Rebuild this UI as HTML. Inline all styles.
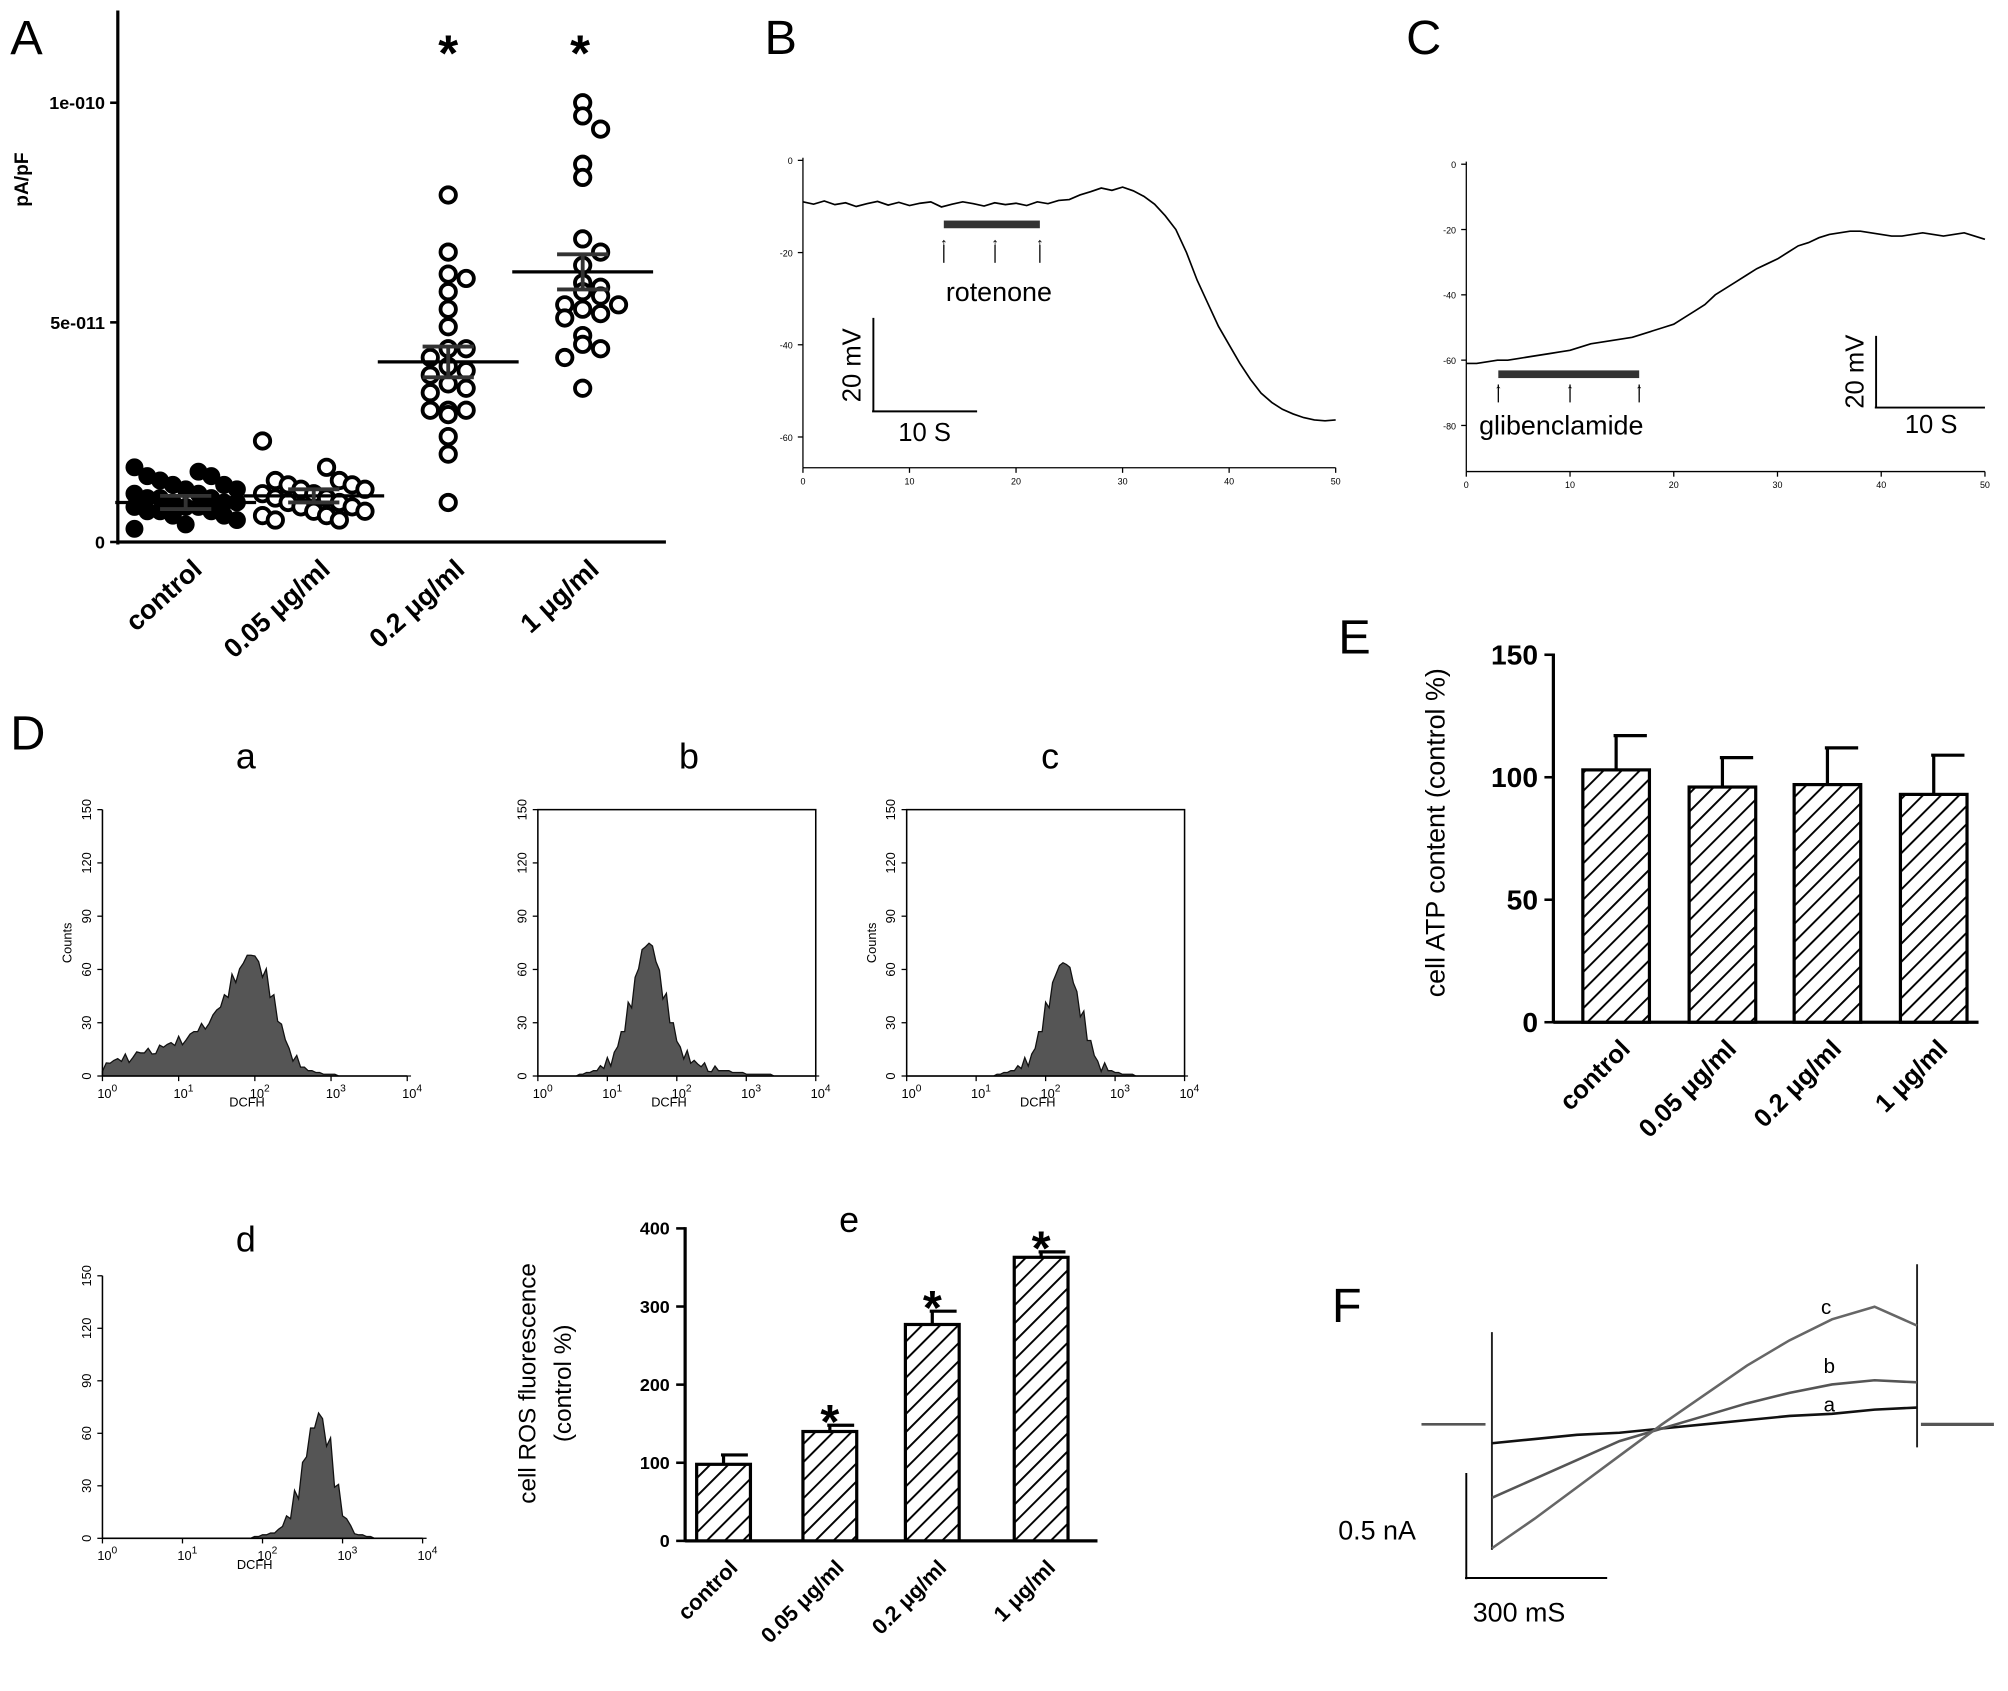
<!DOCTYPE html>
<html><head><meta charset="utf-8"><style>
html,body{margin:0;padding:0;background:#fff;overflow:hidden;}
svg{display:block;font-family:"Liberation Sans",sans-serif;}
</style></head><body>
<svg id="fig" width="2008" height="1691" viewBox="0 0 1568 1320" xmlns="http://www.w3.org/2000/svg">
<defs>
<pattern id="hatch" patternUnits="userSpaceOnUse" width="10" height="10" patternTransform="rotate(45)">
<rect width="10" height="10" fill="#fff"/><line x1="0" y1="0" x2="0" y2="10" stroke="#000" stroke-width="3"/>
</pattern>
</defs>
<g id="root"></g>
</svg>
<script>
// ---------- Panel A data ----------
const aCats = ["control","0.05 μg/ml","0.2 μg/ml","1 μg/ml"];
const aControl = [1.7,1.6,1.5,1.5,1.4,1.3,1.3,1.2,1.2,1.1,1.1,1.0,1.0,1.0,0.9,0.9,0.9,0.8,0.8,0.8,0.7,0.7,0.7,0.6,0.6,0.5,0.4,0.3];
const aLow = [2.3,1.7,1.4,1.4,1.3,1.3,1.2,1.2,1.1,1.1,1.0,1.0,0.9,0.9,0.8,0.8,0.7,0.7,0.6,0.6,0.5,0.5];
const aMid = [7.9,6.6,6.1,6.0,5.7,5.3,4.9,4.4,4.4,4.2,4.0,3.9,3.8,3.6,3.5,3.4,3.0,3.0,3.0,2.9,2.4,2.0,0.9];
const aHigh = [10.0,9.7,9.4,8.6,8.3,6.9,6.6,6.3,5.9,5.8,5.7,5.6,5.4,5.4,5.3,5.2,5.1,4.7,4.5,4.4,4.2,3.5];
const aMeans = [0.9,1.05,4.1,6.15];
const aSem = [0.15,0.15,0.35,0.4];
const aTicks = [0,5,10];
const aTickLabels = ["0","5e-011","1e-010"];

// ---------- Panel B / C data ----------
const bTime = [0,1,2,3,4,5,6,7,8,9,10,11,12,13,14,15,16,17,18,19,20,21,22,23,24,25,26,27,28,29,30,31,32,33,34,35,36,37,38,39,40,41,42,43,44,45,46,47,48,49,50];
const bMv = [-9,-9.5,-8.8,-9.6,-9.2,-10,-9.4,-8.9,-9.7,-9.1,-9.8,-9.3,-9,-10.1,-9.5,-9,-9.4,-9.9,-9.2,-9.6,-9.3,-9.8,-9,-9.4,-8.7,-8.5,-7.5,-6.8,-6,-6.5,-5.8,-6.6,-7.8,-9.5,-12,-15,-20,-26,-31,-36,-40,-44,-47.5,-50.5,-52.5,-54,-55,-55.8,-56.3,-56.5,-56.3];
const cMv = [-61,-61,-60.5,-60,-60,-59.5,-59,-58.5,-58,-57.5,-57,-56,-55,-54.5,-54,-53.5,-53,-52,-51,-50,-49,-47,-45,-43,-40,-38,-36,-34,-32,-30.5,-29,-27,-25,-24,-22.5,-21.5,-21,-20.5,-20.5,-21,-21.5,-22,-22,-21.5,-21,-21.5,-22,-21.5,-21,-22,-23];
const bxTicks = [0,10,20,30,40,50];
const bYTicks = [0,-20,-40,-60];
const cYTicks = [0,-20,-40,-60,-80];

// ---------- Panel D histograms (bins log10 0..4, step 0.1) ----------
const histA = [5,8,9,10,12,13,14,15,17,18,20,22,25,28,32,38,45,55,62,68,66,58,45,30,18,10,5,3,2,1,1,0,0,0,0,0,0,0,0,0,0];
const histB = [0,0,0,0,0,0,1,2,3,5,8,15,25,40,58,72,74,62,45,30,18,12,8,6,5,4,3,3,2,2,1,1,1,1,0,0,0,0,0,0,0];
const histC = [0,0,0,0,0,0,0,0,0,0,0,0,0,1,2,3,5,8,14,25,40,55,63,62,50,35,20,10,5,3,2,1,1,0,0,0,0,0,0,0,0];
const histD = [0,0,0,0,0,0,0,0,0,0,0,0,0,0,0,0,0,0,0,1,2,3,6,12,25,45,63,70,55,30,12,5,2,1,0,0,0,0,0,0,0];
const histYTicks = [0,30,60,90,120,150];

// ---------- Panel e ----------
const rosCats = ["control","0.05 μg/ml","0.2 μg/ml","1 μg/ml"];
const rosVals = [98,140,277,363];
const rosErr = [12,8,17,7];
const rosStar = [false,true,true,true];
const rosTicks = [0,100,200,300,400];

// ---------- Panel E ----------
const atpCats = ["control","0.05 μg/ml","0.2 μg/ml","1 μg/ml"];
const atpVals = [103,96,97,93];
const atpErr = [14,12,15,16];
const atpTicks = [0,50,100,150];

// ---------- Panel F ----------
const fTime = [0,0.1,0.2,0.3,0.4,0.5,0.6,0.7,0.8,0.9,1.0];
const fA = [-0.09,-0.07,-0.05,-0.04,-0.02,0,0.02,0.04,0.05,0.07,0.08];
const fB = [-0.35,-0.26,-0.17,-0.08,-0.02,0.04,0.1,0.15,0.19,0.21,0.2];
const fC = [-0.59,-0.45,-0.3,-0.15,0,0.14,0.28,0.4,0.5,0.56,0.47];

const NS="http://www.w3.org/2000/svg";
const root=document.getElementById('root');
function mk(tag,attrs,parent,text){const e=document.createElementNS(NS,tag);for(const k in attrs)e.setAttribute(k,attrs[k]);if(text!==undefined)e.textContent=text;(parent||root).appendChild(e);return e;}
function grp(name){const g=mk('g',{});


return g;}
function txt(g,x,y,s,size,opts){opts=opts||{};const t=mk('text',{x:x,y:y,'font-size':size,'text-anchor':opts.anchor||'start','font-weight':opts.bold?'bold':'normal',fill:'#000'},g,s);if(opts.rot!==undefined)t.setAttribute('transform','rotate('+opts.rot+' '+x+' '+y+')');


return t;}
function line(g,x1,y1,x2,y2,w,c){return mk('line',{x1:x1,y1:y1,x2:x2,y2:y2,stroke:c||'#000','stroke-width':w||1},g);}

// ===== Panel A =====
(function(){
const g=grp('panel-a');
txt(g,8,42,'A',38,{name:'panel-letter-a'});
const y=v=>423-v*34.3; const xs=[145,245,350,455];
line(g,92,8,92,425,2.5);line(g,91,423,520,423,2.5);
aTicks.forEach((t,i)=>{line(g,86,y(t),92,y(t),2);txt(g,82,y(t)+5,aTickLabels[i],14,{anchor:'end',bold:true,name:'y-tick-label'});});
txt(g,22,140,'pA/pF',15,{bold:true,rot:-90,anchor:'middle',name:'y-axis-title'});
const groups=[aControl,aLow,aMid,aHigh];
groups.forEach((arr,gi)=>{
 const sg=grp('series-'+gi);g.appendChild(sg);
 const counts={};
 arr.forEach((v,i)=>{
  let off;
  if(gi<2){off=((i*5)%9-4)*10;}
  else{const key=Math.round(v*2.5);const n=counts[key]||0;counts[key]=n+1;off=(n%2?1:-1)*Math.ceil(n/2)*14;}
  const c=mk('circle',{cx:xs[gi]+off,cy:y(v),r:gi==0?6.5:6,fill:gi==0?'#000':'#fff',stroke:'#000','stroke-width':gi==0?1:3},sg);
  
  
 });
 const m=aMeans[gi];
 line(g,xs[gi]-55,y(m),xs[gi]+55,y(m),2.5);
 line(g,xs[gi]-20,y(m+aSem[gi]),xs[gi]+20,y(m+aSem[gi]),3,'#333');
 line(g,xs[gi]-20,y(m-aSem[gi]),xs[gi]+20,y(m-aSem[gi]),3,'#333');
 line(g,xs[gi],y(m-aSem[gi]),xs[gi],y(m+aSem[gi]),3,'#333');
 txt(g,xs[gi]+14,446,aCats[gi],21,{anchor:'end',bold:true,rot:-42,name:'x-tick-label'});
});
txt(g,350,55,'*',40,{anchor:'middle',bold:true,name:'significance-star'});
txt(g,453,55,'*',40,{anchor:'middle',bold:true,name:'significance-star'});
})();

// ===== Trace panels B & C =====
function tracePanel(name,letter,lx,x0,x1,yTop,yBot,mvScale,yTicks,vals,draw){
 const g=grp(name);
 txt(g,lx,42,letter,38,{name:'panel-letter-'+letter.toLowerCase()});
 const X=t=>x0+(x1-x0)*t/50, Y=v=>yTop-v*mvScale;
 line(g,x0,yTop-2,x0,yBot,1);line(g,x0,yBot,x1,yBot,1);
 bxTicks.forEach(t=>{line(g,X(t),yBot,X(t),yBot+4,1);txt(g,X(t),yBot+13,String(t),7,{anchor:'middle',name:'x-tick-label'});});
 yTicks.forEach(t=>{line(g,x0-4,Y(t),x0,Y(t),1);txt(g,x0-8,Y(t)+3,String(t),7,{anchor:'end',name:'y-tick-label'});});
 const pts=bTime.map((t,i)=>X(t)+','+Y(vals[i])).join(' ');
 const p=mk('polyline',{points:pts,fill:'none',stroke:'#000','stroke-width':1.3},g);
 
 
 draw(g);
}
tracePanel('panel-b','B',597,627,1043,125,365,3.6,bYTicks,bMv,g=>{
 const r=mk('rect',{x:737,y:172,width:75,height:6,fill:'#333'},g);
 
 
 [737,777,812].forEach(x=>{line(g,x,191,x,205,1);txt(g,x,194,'↑',12,{anchor:'middle',name:'arrow'});});
 txt(g,780,235,'rotenone',21,{anchor:'middle',name:'rotenone-label'});
 line(g,682,248,682,321,1.5);line(g,681,321,763,321,1.5);
 txt(g,672,285,'20 mV',20,{anchor:'middle',rot:-90,name:'scale-mv'});
 txt(g,722,344,'10 S',20,{anchor:'middle',name:'scale-s'});
});
tracePanel('panel-c','C',1098,1145,1550,128,368,2.55,cYTicks,cMv,g=>{
 const r=mk('rect',{x:1170,y:289,width:110,height:6,fill:'#333'},g);
 
 
 [1170,1226,1280].forEach(x=>{line(g,x,300,x,314,1);txt(g,x,308,'↑',12,{anchor:'middle',name:'arrow'});});
 txt(g,1155,339,'glibenclamide',21,{name:'glibenclamide-label'});
 line(g,1465,262,1465,318,1.5);line(g,1464,318,1550,318,1.5);
 txt(g,1455,290,'20 mV',20,{anchor:'middle',rot:-90,name:'scale-mv'});
 txt(g,1508,338,'10 S',20,{anchor:'middle',name:'scale-s'});
});

// ===== Panel D histograms =====
txt(root,8,585,'D',38,{name:'panel-letter-d'});
function hist(name,letter,x0,x1,yT,yB,data,box,tx,ty,ylabel){
 const g=grp(name);
 txt(g,tx,ty,letter,28,{anchor:'middle',name:'subpanel-letter'});
 const X=l=>x0+(x1-x0)*l/4, Y=c=>yB-(yB-yT)*c/150;
 let d='M'+X(0)+','+yB;
 data.forEach((c,i)=>{const jit=c>3?((i*37)%7-3)*0.8:0;d+=' L'+X(i*0.1)+','+Y(Math.max(0,c+jit));d+=' L'+X(i*0.1+0.05)+','+Y(Math.max(0,c-jit));});
 d+=' L'+X(4)+','+yB+' Z';
 const p=mk('path',{d:d,fill:'#555',stroke:'#111','stroke-width':1},g);
 
 
 if(box){mk('rect',{x:x0,y:yT,width:x1-x0,height:yB-yT,fill:'none',stroke:'#000','stroke-width':1.2},g);}
 else{line(g,x0,yT,x0,yB,1.2);line(g,x0,yB,x1,yB,1.2);}
 histYTicks.forEach(t=>{line(g,x0-4,Y(t),x0,Y(t),1);txt(g,x0-9,Y(t),String(t),10,{anchor:'middle',rot:-90,name:'y-tick-label'});});
 for(let k=0;k<=4;k++){line(g,X(k),yB,X(k),yB+4,1);const t=txt(g,X(k)-4,yB+17,'10',10,{name:'x-tick-label'});mk('tspan',{dy:-5,'font-size':8},t,String(k));}
 txt(g,(x0+x1)/2-20,yB+24,'DCFH',10,{name:'x-axis-title'});
 if(ylabel)txt(g,x0-24,(yT+yB)/2,'Counts',10,{anchor:'middle',rot:-90,name:'y-axis-title'});
}
hist('hist-a','a',80,318,632,840,histA,false,192,600,true);
hist('hist-b','b',420,637,632,840,histB,true,538,600,false);
hist('hist-c','c',708,925,632,840,histC,true,820,600,true);
hist('hist-d','d',80,330,996,1201,histD,false,192,977,false);

// ===== Bar chart helper =====
function bars(name,x0,x1,yZero,pxPer,ticks,cats,vals,errs,xs,bw,stars,tickSize,labSize){
 const g=grp(name);const Y=v=>yZero-v*pxPer;
 line(g,x0,Y(ticks[ticks.length-1])-1,x0,yZero+1,2.5);line(g,x0,yZero,x1,yZero,2.5);
 ticks.forEach(t=>{line(g,x0-7,Y(t),x0,Y(t),2);txt(g,x0-12,Y(t)+tickSize*0.35,String(t),tickSize,{anchor:'end',bold:true,name:'y-tick-label'});});
 cats.forEach((c,i)=>{
  line(g,xs[i],Y(vals[i]),xs[i],Y(vals[i]+errs[i]),2.5);line(g,xs[i]-2,Y(vals[i]+errs[i]),xs[i]+bw/2-2,Y(vals[i]+errs[i]),2.5);
  const r=mk('rect',{x:xs[i]-bw/2,y:Y(vals[i]),width:bw,height:vals[i]*pxPer,fill:'url(#hatch)',stroke:'#000','stroke-width':2.5},g);
  
  
  if(stars&&stars[i])txt(g,xs[i],Y(vals[i]+errs[i])+10,'*',38,{anchor:'middle',bold:true,name:'significance-star'});
  txt(g,xs[i]+12,yZero+22,c,labSize,{anchor:'end',bold:true,rot:-45,name:'x-tick-label'});
 });
 return g;
}
const ge=bars('panel-e-ros',535,857,1203,0.61,rosTicks,rosCats,rosVals,rosErr,[565,648,728,813],42,rosStar,14,17);
txt(ge,663,962,'e',28,{anchor:'middle',name:'subpanel-letter'});
txt(ge,418,1080,'cell ROS fluorescence',19,{anchor:'middle',rot:-90,name:'y-axis-title'});
txt(ge,446,1080,'(control %)',19,{anchor:'middle',rot:-90,name:'y-axis-title'});
const gE=bars('panel-e-atp',1213,1545,798,1.913,atpTicks,atpCats,atpVals,atpErr,[1262,1345,1427,1510],52,null,22,20);
txt(gE,1045,510,'E',38,{name:'panel-letter-e'});
txt(gE,1128,650,'cell ATP content  (control %)',21,{anchor:'middle',rot:-90,name:'y-axis-title'});

// ===== Panel F =====
(function(){
 const g=grp('panel-f');
 txt(g,1040,1032,'F',38,{name:'panel-letter-f'});
 const base=1112;
 const X=t=>1165+332*t, Y=v=>base-v*164;
 line(g,1110,base,1160,base,2,'#555');line(g,1500,base,1557,base,2.5,'#555');
 line(g,1165,1040,1165,1210,1.5,'#222');line(g,1497,987,1497,1130,1.5,'#222');
 [[fA,'#111','trace-a'],[fB,'#555','trace-b'],[fC,'#666','trace-c']].forEach(s=>{
  const pts=fTime.map((t,i)=>X(t)+','+Y(s[0][i])).join(' ');
  const p=mk('polyline',{points:pts,fill:'none',stroke:s[1],'stroke-width':2},g);
  
  
 });
 txt(g,1422,1026,'c',16,{name:'trace-label-c'});txt(g,1424,1072,'b',16,{name:'trace-label-b'});txt(g,1424,1102,'a',16,{name:'trace-label-a'});
 line(g,1145,1150,1145,1233,1.5);line(g,1144,1232,1255,1232,1.5);
 txt(g,1045,1202,'0.5 nA',21,{name:'scale-na'});
 txt(g,1150,1266,'300 mS',21,{name:'scale-ms'});
})();
</script>
</body></html>
